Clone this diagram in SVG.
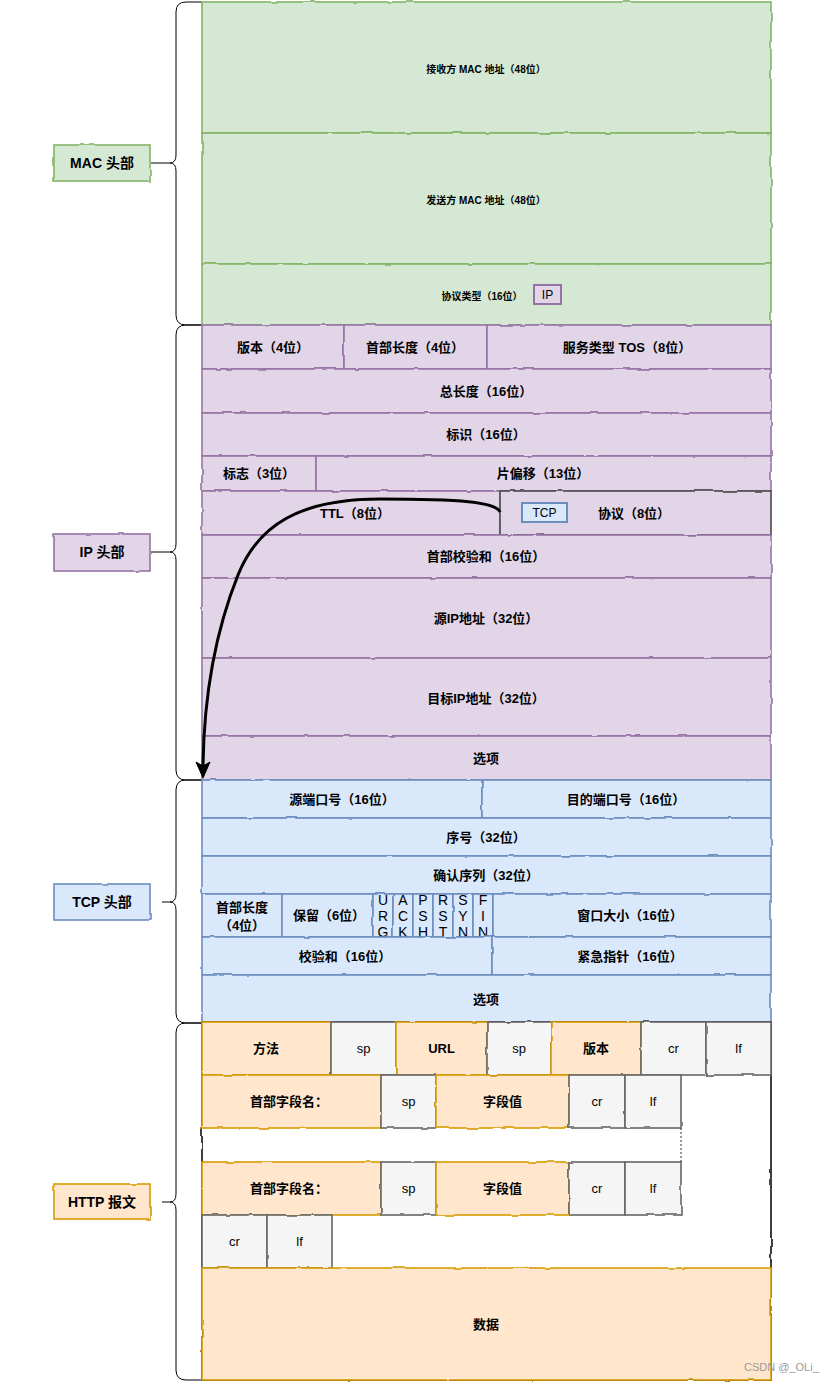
<svg xmlns="http://www.w3.org/2000/svg" width="826" height="1382" viewBox="0 0 826 1382">
<style>
.c{stroke-width:1.6}
.g{fill:#d5e8d4;stroke:#82b366}
.p{fill:#e1d5e7;stroke:#9673a6}
.pd{fill:#e1d5e7;stroke:#4a4a4a}
.b{fill:#dae8fc;stroke:#6c8ebf}
.o{fill:#ffe6cc;stroke:#d79b00}
.s{fill:#f5f5f5;stroke:#666666}
.t{font-family:"Liberation Sans","Noto Sans CJK SC",sans-serif;font-size:13px;font-weight:bold;text-anchor:middle;dominant-baseline:central;fill:#000}
.sm{font-size:10px}
.n{font-weight:normal}
.f{font-size:14px;font-weight:normal}
.lb{font-size:14px}
.br{fill:none;stroke:#000;stroke-width:1}
</style>
<defs>
<filter id="rough" filterUnits="userSpaceOnUse" x="0" y="0" width="826" height="1382">
<feTurbulence type="fractalNoise" baseFrequency="0.05" numOctaves="2" seed="4"/>
<feDisplacementMap in="SourceGraphic" scale="2.5" xChannelSelector="R" yChannelSelector="G"/>
</filter>
</defs>
<rect width="826" height="1382" fill="#fff"/>

<g id="braces">
<g id="brace-mac"><path class="br" d="M202,2 H186 Q176,2 176,12 V155 Q176,163 170,163 Q176,163 176,171 V315 Q176,325 186,325 H202"/><line class="br" x1="151" y1="163" x2="170" y2="163"/></g>
<g id="brace-ip"><path class="br" d="M202,325 H186 Q176,325 176,335 V544 Q176,552 170,552 Q176,552 176,560 V770 Q176,780 186,780 H202"/><line class="br" x1="151" y1="552" x2="170" y2="552"/></g>
<g id="brace-tcp"><path class="br" d="M202,780 H186 Q176,780 176,790 V894 Q176,902 170,902 Q176,902 176,910 V1013 Q176,1023 186,1023 H202"/><line class="br" x1="162" y1="902" x2="170" y2="902"/></g>
<g id="brace-http"><path class="br" d="M202,1023 H186 Q176,1023 176,1033 V1194 Q176,1202 170,1202 Q176,1202 176,1210 V1370 Q176,1380 186,1380 H202"/><line class="br" x1="162" y1="1202" x2="170" y2="1202"/></g>
</g>

<g id="labels">
<g id="label-mac"><rect class="c g" x="54" y="145" width="96" height="36" filter="url(#rough)"/><text class="t lb" x="102" y="163">MAC 头部</text></g>
<g id="label-ip"><rect class="c p" x="54" y="534" width="96" height="37" filter="url(#rough)"/><text class="t lb" x="102" y="552">IP 头部</text></g>
<g id="label-tcp"><rect class="c b" x="54" y="884" width="96" height="36" filter="url(#rough)"/><text class="t lb" x="102" y="902">TCP 头部</text></g>
<g id="label-http"><rect class="c o" x="54" y="1184" width="96" height="35" filter="url(#rough)"/><text class="t lb" x="102" y="1202">HTTP 报文</text></g>
</g>

<g id="mac">
<g id="mac-dst"><rect class="c g" x="202" y="2" width="569" height="131" filter="url(#rough)"/><text class="t sm" x="486" y="69">接收方 MAC 地址（48位）</text></g>
<g id="mac-src"><rect class="c g" x="202" y="133" width="569" height="131" filter="url(#rough)"/><text class="t sm" x="486" y="200">发送方 MAC 地址（48位）</text></g>
<g id="mac-type"><rect class="c g" x="202" y="264" width="569" height="61" filter="url(#rough)"/><text class="t sm" x="482" y="296">协议类型（16位）</text></g>
<g id="mac-ip-tag"><rect x="534" y="285" width="27" height="19" fill="#e1d5e7" stroke="#9673a6" stroke-width="2"/><text class="t n" x="547.5" y="294.5" style="font-size:12px">IP</text></g>
</g>

<g id="ip">
<g id="ip-ver"><rect class="c p" x="202" y="325" width="142" height="44" filter="url(#rough)"/><text class="t" x="273" y="347">版本（4位）</text></g>
<g id="ip-hlen"><rect class="c p" x="344" y="325" width="143" height="44" filter="url(#rough)"/><text class="t" x="415" y="347">首部长度（4位）</text></g>
<g id="ip-tos"><rect class="c p" x="487" y="325" width="284" height="44" filter="url(#rough)"/><text class="t" x="627" y="347">服务类型 TOS（8位）</text></g>
<g id="ip-total"><rect class="c p" x="202" y="369" width="569" height="44" filter="url(#rough)"/><text class="t" x="486" y="391">总长度（16位）</text></g>
<g id="ip-id"><rect class="c p" x="202" y="413" width="569" height="43" filter="url(#rough)"/><text class="t" x="486" y="434.5">标识（16位）</text></g>
<g id="ip-flags"><rect class="c p" x="202" y="456" width="114" height="35" filter="url(#rough)"/><text class="t" x="259" y="473.5">标志（3位）</text></g>
<g id="ip-frag"><rect class="c p" x="316" y="456" width="455" height="35" filter="url(#rough)"/><text class="t" x="543" y="473.5">片偏移（13位）</text></g>
<g id="ip-ttl"><rect class="c p" x="202" y="491" width="298" height="44" filter="url(#rough)"/><text class="t" x="355" y="513">TTL（8位）</text></g>
<g id="ip-proto"><rect class="c pd" x="500" y="491" width="271" height="44" filter="url(#rough)"/><text class="t" x="634" y="513">协议（8位）</text></g>
<g id="ip-tcp-tag"><rect x="522" y="503" width="45" height="19" fill="#dae8fc" stroke="#6c8ebf" stroke-width="2"/><text class="t n" x="544.5" y="512.5" style="font-size:12px">TCP</text></g>
<g id="ip-cksum"><rect class="c p" x="202" y="535" width="569" height="43" filter="url(#rough)"/><text class="t" x="486" y="556.5">首部校验和（16位）</text></g>
<g id="ip-src"><rect class="c p" x="202" y="578" width="569" height="80" filter="url(#rough)"/><text class="t" x="486" y="618">源IP地址（32位）</text></g>
<g id="ip-dst"><rect class="c p" x="202" y="658" width="569" height="78" filter="url(#rough)"/><text class="t" x="486" y="698">目标IP地址（32位）</text></g>
<g id="ip-opt"><rect class="c p" x="202" y="736" width="569" height="44" filter="url(#rough)"/><text class="t" x="486" y="758">选项</text></g>
</g>

<g id="tcp">
<g id="tcp-sport"><rect class="c b" x="202" y="780" width="280" height="38" filter="url(#rough)"/><text class="t" x="342" y="799">源端口号（16位）</text></g>
<g id="tcp-dport"><rect class="c b" x="482" y="780" width="289" height="38" filter="url(#rough)"/><text class="t" x="626" y="799">目的端口号（16位）</text></g>
<g id="tcp-seq"><rect class="c b" x="202" y="818" width="569" height="38" filter="url(#rough)"/><text class="t" x="486" y="837">序号（32位）</text></g>
<g id="tcp-ack"><rect class="c b" x="202" y="856" width="569" height="38" filter="url(#rough)"/><text class="t" x="486" y="875">确认序列（32位）</text></g>
<g id="tcp-hlen"><rect class="c b" x="202" y="894" width="80" height="43" filter="url(#rough)"/><text class="t" x="242" y="907">首部长度</text><text class="t" x="242" y="925">（4位）</text></g>
<g id="tcp-rsv"><rect class="c b" x="282" y="894" width="91" height="43" filter="url(#rough)"/><text class="t" x="329" y="915.5">保留（6位）</text></g>
<g id="tcp-urg"><rect class="c b" x="373" y="894" width="20" height="43" filter="url(#rough)"/><text class="t f" x="383" y="900">U</text><text class="t f" x="383" y="916">R</text><text class="t f" x="383" y="932">G</text></g>
<g id="tcp-ackf"><rect class="c b" x="393" y="894" width="20" height="43" filter="url(#rough)"/><text class="t f" x="403" y="900">A</text><text class="t f" x="403" y="916">C</text><text class="t f" x="403" y="932">K</text></g>
<g id="tcp-psh"><rect class="c b" x="413" y="894" width="20" height="43" filter="url(#rough)"/><text class="t f" x="423" y="900">P</text><text class="t f" x="423" y="916">S</text><text class="t f" x="423" y="932">H</text></g>
<g id="tcp-rst"><rect class="c b" x="433" y="894" width="20" height="43" filter="url(#rough)"/><text class="t f" x="443" y="900">R</text><text class="t f" x="443" y="916">S</text><text class="t f" x="443" y="932">T</text></g>
<g id="tcp-syn"><rect class="c b" x="453" y="894" width="20" height="43" filter="url(#rough)"/><text class="t f" x="463" y="900">S</text><text class="t f" x="463" y="916">Y</text><text class="t f" x="463" y="932">N</text></g>
<g id="tcp-fin"><rect class="c b" x="473" y="894" width="20" height="43" filter="url(#rough)"/><text class="t f" x="483" y="900">F</text><text class="t f" x="483" y="916">I</text><text class="t f" x="483" y="932">N</text></g>
<g id="tcp-win"><rect class="c b" x="493" y="894" width="278" height="43" filter="url(#rough)"/><text class="t" x="630" y="915.5">窗口大小（16位）</text></g>
<g id="tcp-cksum"><rect class="c b" x="202" y="937" width="290" height="38" filter="url(#rough)"/><text class="t" x="345" y="956">校验和（16位）</text></g>
<g id="tcp-urgp"><rect class="c b" x="492" y="937" width="279" height="38" filter="url(#rough)"/><text class="t" x="630" y="956">紧急指针（16位）</text></g>
<g id="tcp-opt"><rect class="c b" x="202" y="975" width="569" height="48" filter="url(#rough)"/><text class="t" x="486" y="999">选项</text></g>
</g>

<g id="http">
<g id="http-frame"><rect x="202" y="1022" width="569" height="358" fill="#fff" stroke="#000" stroke-width="1.5" filter="url(#rough)"/></g>
<g id="http-method"><rect class="c o" x="202" y="1022" width="129" height="53" filter="url(#rough)"/><text class="t" x="266" y="1048.5">方法</text></g>
<g id="http-sp1"><rect class="c s" x="331" y="1022" width="65" height="53" filter="url(#rough)"/><text class="t n" x="363.5" y="1048.5">sp</text></g>
<g id="http-url"><rect class="c o" x="396" y="1022" width="91" height="53" filter="url(#rough)"/><text class="t" x="441.5" y="1048.5">URL</text></g>
<g id="http-sp2"><rect class="c s" x="487" y="1022" width="64" height="53" filter="url(#rough)"/><text class="t n" x="519" y="1048.5">sp</text></g>
<g id="http-ver"><rect class="c o" x="551" y="1022" width="90" height="53" filter="url(#rough)"/><text class="t" x="596" y="1048.5">版本</text></g>
<g id="http-cr1"><rect class="c s" x="641" y="1022" width="65" height="53" filter="url(#rough)"/><text class="t n" x="673.5" y="1048.5">cr</text></g>
<g id="http-lf1"><rect class="c s" x="706" y="1022" width="65" height="53" filter="url(#rough)"/><text class="t n" x="738.5" y="1048.5">lf</text></g>

<g id="http-h1-name"><rect class="c o" x="202" y="1075" width="179" height="53" filter="url(#rough)"/><text class="t" x="289" y="1101.5">首部字段名：</text></g>
<g id="http-h1-sp"><rect class="c s" x="381" y="1075" width="55" height="53" filter="url(#rough)"/><text class="t n" x="408.5" y="1101.5">sp</text></g>
<g id="http-h1-val"><rect class="c o" x="436" y="1075" width="133" height="53" filter="url(#rough)"/><text class="t" x="502.5" y="1101.5">字段值</text></g>
<g id="http-h1-cr"><rect class="c s" x="569" y="1075" width="56" height="53" filter="url(#rough)"/><text class="t n" x="597" y="1101.5">cr</text></g>
<g id="http-h1-lf"><rect class="c s" x="625" y="1075" width="56" height="53" filter="url(#rough)"/><text class="t n" x="653" y="1101.5">lf</text></g>

<g id="http-h2-name"><rect class="c o" x="202" y="1162" width="179" height="53" filter="url(#rough)"/><text class="t" x="289" y="1188.5">首部字段名：</text></g>
<g id="http-h2-sp"><rect class="c s" x="381" y="1162" width="55" height="53" filter="url(#rough)"/><text class="t n" x="408.5" y="1188.5">sp</text></g>
<g id="http-h2-val"><rect class="c o" x="436" y="1162" width="133" height="53" filter="url(#rough)"/><text class="t" x="502.5" y="1188.5">字段值</text></g>
<g id="http-h2-cr"><rect class="c s" x="569" y="1162" width="56" height="53" filter="url(#rough)"/><text class="t n" x="597" y="1188.5">cr</text></g>
<g id="http-h2-lf"><rect class="c s" x="625" y="1162" width="56" height="53" filter="url(#rough)"/><text class="t n" x="653" y="1188.5">lf</text></g>

<g id="http-end-cr"><rect class="c s" x="202" y="1215" width="65" height="53" filter="url(#rough)"/><text class="t n" x="234.5" y="1241.5">cr</text></g>
<g id="http-end-lf"><rect class="c s" x="267" y="1215" width="65" height="53" filter="url(#rough)"/><text class="t n" x="299.5" y="1241.5">lf</text></g>

<g id="http-data"><rect class="c o" x="202" y="1268" width="569" height="112" filter="url(#rough)"/><text class="t" x="486" y="1324">数据</text></g>
</g>

<g id="connectors">
<line x1="681" y1="1128" x2="681" y2="1162" stroke="#333" stroke-width="1" stroke-dasharray="2,2"/>
<path d="M500,512 C496,502 460,499 380,499 C300,499 258,525 238,575 C218,625 204,690 203,766" fill="none" stroke="#000" stroke-width="3"/>
<polygon points="203,778 196,762 203,766 210,762" fill="#000" stroke="#000" stroke-width="1"/>
</g>

<text x="744" y="1371" style="font-family:'Liberation Sans',sans-serif;font-size:11px;fill:#9a9a9a">CSDN @_OLi_</text>
</svg>
